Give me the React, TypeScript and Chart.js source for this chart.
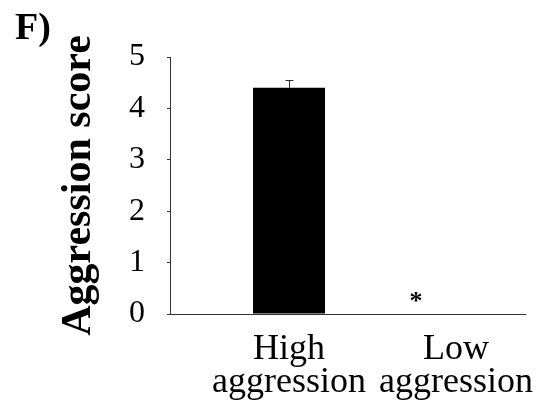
import React, { useEffect, useRef } from "react";
import { Chart, registerables } from "chart.js";

Chart.register(...registerables);

// Groups and their mean aggression scores (x positions on a linear axis)
const groupLabels: string[][] = [["High", "aggression"], ["Low", "aggression"]];
const groupPositions: number[] = [0, 1];
const meanScores: number[] = [4.4, 0];
const errorValues: number[] = [0.15, 0];
const yTicks: number[] = [0, 1, 2, 3, 4, 5];
const panelLabel = "F)";
const yTitle = "Aggression score";
const sigMark = "*";
const sigMarkX = 0.76;

const SERIF = '"Liberation Serif", "Times New Roman", serif';

const overlayPlugin = {
  id: "overlay",
  afterDatasetsDraw(chart: any) {
    const { ctx, scales } = chart;
    const xs = scales.x;
    const ys = scales.y;
    ctx.save();
    // error bars (upper whisker only)
    ctx.strokeStyle = "#333";
    ctx.lineWidth = 1;
    meanScores.forEach((v, i) => {
      const e = errorValues[i];
      if (!e) return;
      const cx = Math.round(xs.getPixelForValue(groupPositions[i])) + 0.5;
      const y0 = ys.getPixelForValue(v);
      const y1 = Math.round(ys.getPixelForValue(v + e)) + 0.5;
      ctx.beginPath();
      ctx.moveTo(cx, y0);
      ctx.lineTo(cx, y1);
      ctx.moveTo(cx - 4, y1);
      ctx.lineTo(cx + 4, y1);
      ctx.stroke();
    });
    // significance mark
    ctx.fillStyle = "#000";
    ctx.font = `bold 26px ${SERIF}`;
    ctx.textAlign = "center";
    ctx.textBaseline = "alphabetic";
    ctx.fillText(sigMark, xs.getPixelForValue(sigMarkX), ys.getPixelForValue(0) - 5);
    // panel letter
    ctx.font = `bold 38px ${SERIF}`;
    ctx.textAlign = "left";
    ctx.fillText(panelLabel, 15, 39);
    ctx.restore();
  },
};

export default function App() {
  const canvasRef = useRef<HTMLCanvasElement | null>(null);

  useEffect(() => {
    if (!canvasRef.current) return;
    const chart = new Chart(canvasRef.current, {
      type: "bar",
      data: {
        datasets: [
          {
            data: groupPositions.map((x, i) => ({ x, y: meanScores[i] })),
            backgroundColor: "#000",
            borderWidth: 0,
            inflateAmount: 0,
            barThickness: 72,
          },
        ],
      },
      options: {
        animation: false,
        responsive: false,
        maintainAspectRatio: false,
        layout: { padding: { top: 57, right: 15, left: 0, bottom: 0 } },
        plugins: { legend: { display: false }, tooltip: { enabled: false } },
        scales: {
          x: {
            type: "linear",
            offset: false,
            min: -0.7126,
            max: 1.413,
            afterBuildTicks: (s: any) => {
              s.ticks = groupPositions.map((v) => ({ value: v }));
            },
            afterFit: (s: any) => {
              s.height = 100;
              s.paddingLeft = 0;
              s.paddingRight = 0;
            },
            grid: { display: true, drawOnChartArea: false, drawTicks: false },
            border: { display: true, color: "#333", width: 1 },
            ticks: {
              autoSkip: false,
              maxRotation: 0,
              minRotation: 0,
              padding: 19,
              color: "#000",
              font: { family: SERIF, size: 36, lineHeight: 0.92 },
              callback: (v: any) => {
                const i = groupPositions.indexOf(Number(v));
                return i >= 0 ? groupLabels[i] : "";
              },
            },
          },
          y: {
            min: 0,
            max: 5,
            afterBuildTicks: (s: any) => {
              s.ticks = yTicks.map((v) => ({ value: v }));
            },
            afterFit: (s: any) => {
              s.width = 170;
            },
            grid: { display: true, drawOnChartArea: false, drawTicks: true, tickLength: 3, color: "#333" },
            border: { display: true, color: "#333", width: 1 },
            ticks: {
              padding: 22,
              color: "#000",
              font: { family: SERIF, size: 32 },
            },
            title: {
              display: true,
              text: yTitle,
              color: "#000",
              padding: { top: 54, bottom: 0 },
              font: { family: SERIF, size: 42, weight: "bold" },
            },
          },
        },
      },
      plugins: [overlayPlugin],
    });
    return () => chart.destroy();
  }, []);

  return (
    <div style={{ position: "fixed", left: 0, top: 0, width: 540, height: 414, background: "#fff" }}>
      <canvas ref={canvasRef} width={540} height={414} />
    </div>
  );
}
